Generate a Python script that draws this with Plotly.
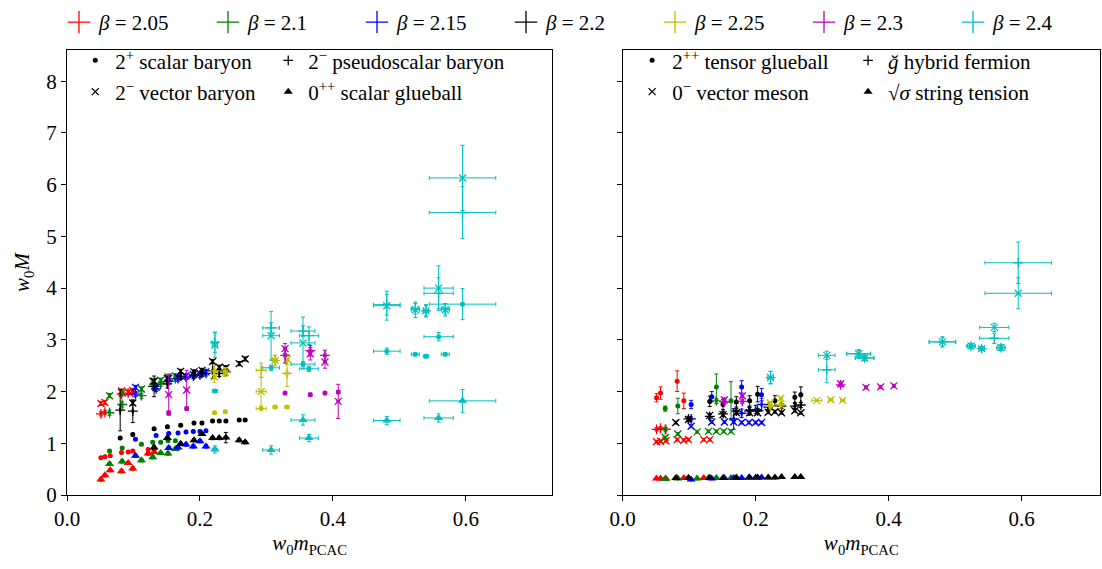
import plotly.graph_objects as go

# ---------------- data ----------------
BETA_LABELS = ["2.05", "2.1", "2.15", "2.2", "2.25", "2.3", "2.4"]
BETA_COLORS = ["#ff0000", "#008000", "#0000ff", "#000000", "#bfbf00", "#bf00bf", "#00bfbf"]

# w0 m_PCAC of each ensemble, per beta
X_205 = [0.051, 0.057, 0.065, 0.082, 0.092, 0.099, 0.122, 0.131]
X_21 = [0.064, 0.083, 0.112, 0.129, 0.141, 0.152, 0.163]
X_215 = [0.103, 0.134, 0.153, 0.167, 0.179, 0.190, 0.200, 0.209]
X_22 = [0.080, 0.099, 0.131, 0.151, 0.171, 0.191, 0.203, 0.219, 0.229, 0.239, 0.259, 0.268]
X_225 = [0.222, 0.238, 0.292, 0.313, 0.331]
X_23 = [0.153, 0.180, 0.328, 0.366, 0.388, 0.408]
X_24 = [0.2225, 0.307, 0.355, 0.364, 0.481, 0.524, 0.540, 0.559, 0.569, 0.595]
X_ENS = [X_205, X_21, X_215, X_22, X_225, X_23, X_24]

XE_205 = [0.001, 0.001, 0.001, 0.001, 0.001, 0.001, 0.001, 0.001]
XE_21 = [0.001, 0.001, 0.001, 0.001, 0.001, 0.001, 0.001]
XE_215 = [0.001, 0.001, 0.001, 0.001, 0.001, 0.001, 0.001, 0.001]
XE_22 = [0.001, 0.001, 0.001, 0.001, 0.001, 0.001, 0.001, 0.001, 0.001, 0.001, 0.001, 0.001]
XE_225 = [0.002, 0.002, 0.0075, 0.003, 0.003]
XE_23 = [0.002, 0.002, 0.002, 0.002, 0.002, 0.002]
XE_24 = [0.004, 0.0125, 0.018, 0.014, 0.02, 0.006, 0.004, 0.022, 0.006, 0.05]
X_ERR = [XE_205, XE_21, XE_215, XE_22, XE_225, XE_23, XE_24]

# ---- left panel states (w0 M), one list per beta ----
SCALAR_BARYON = [
    [0.72, 0.74, 0.76, 0.82, 0.83, 0.85, 0.88, 0.89],
    [0.85, 0.91, 0.98, 1.02, 1.02, 1.05, 1.05],
    [1.08, 1.15, 1.19, 1.20, 1.22, 1.23, 1.23, 1.24],
    [1.10, 1.17, 1.28, 1.32, 1.35, 1.39, 1.39, 1.43, 1.43, 1.43, 1.45, 1.45],
    [1.59, 1.61, 1.67, 1.70, 1.70],
    [1.59, 1.67, 1.97, 1.94, 1.97, 1.99],
    [2.01, 2.46, 2.53, 2.44, 2.78, 2.72, 2.68, 3.06, 2.72, 3.69],
]
SCALAR_BARYON_ERR = [
    [0.02, 0.02, 0.02, 0.02, 0.02, 0.02, 0.02, 0.02],
    [0.02, 0.02, 0.02, 0.02, 0.02, 0.02, 0.02],
    [0.02, 0.02, 0.02, 0.02, 0.02, 0.02, 0.02, 0.02],
    [0.02, 0.02, 0.02, 0.02, 0.02, 0.02, 0.02, 0.02, 0.02, 0.02, 0.02, 0.02],
    [0.02, 0.02, 0.02, 0.02, 0.02],
    [0.03, 0.03, 0.03, 0.03, 0.03, 0.03],
    [0.03, 0.05, 0.05, 0.05, 0.06, 0.03, 0.03, 0.08, 0.03, 0.30],
]
PSEUDO_BARYON = [
    [1.57, 1.60, None, 1.95, 1.97, 1.98, None, None],
    [1.59, 1.75, 1.92, 2.10, 2.15, 2.20, 2.25],
    [1.95, 2.05, 2.20, 2.25, 2.28, 2.30, 2.32, 2.35],
    [1.64, 1.62, 2.10, 2.15, 2.30, 2.32, 2.35, 2.40, 2.35, 2.38, None, None],
    [2.40, 2.38, 2.41, 2.60, 2.35],
    [None, None, 2.70, 2.79, 2.70, None],
    [2.95, 3.23, 3.17, 3.08, 3.68, 3.60, 3.56, 3.90, 3.60, 5.46],
]
PSEUDO_BARYON_ERR = [
    [0.04, 0.04, 0.0, 0.04, 0.04, 0.04, 0.0, 0.0],
    [0.05, 0.05, 0.05, 0.05, 0.05, 0.05, 0.05],
    [0.05, 0.05, 0.05, 0.05, 0.05, 0.05, 0.05, 0.05],
    [0.40, 0.22, 0.20, 0.08, 0.06, 0.06, 0.06, 0.15, 0.06, 0.06, 0.0, 0.0],
    [0.10, 0.08, 0.14, 0.10, 0.25],
    [0.0, 0.0, 0.15, 0.10, 0.10, 0.0],
    [0.20, 0.10, 0.10, 0.17, 0.20, 0.10, 0.10, 0.30, 0.10, 0.50],
]
VECTOR_BARYON = [
    [1.77, 1.79, None, 2.01, 1.99, 2.02, None, None],
    [1.92, 1.97, 2.05, 2.20, 2.22, 2.28, 2.30],
    [2.08, 2.08, 2.25, 2.28, 2.30, 2.33, 2.35, 2.38],
    [None, 1.78, 2.20, 2.25, 2.39, 2.38, 2.41, 2.58, 2.47, 2.46, 2.54, 2.63],
    [2.28, 2.37, 2.00, 2.60, 2.62],
    [1.94, 2.03, 2.83, 2.73, 2.57, 1.81],
    [2.90, 3.08, 2.94, None, 3.66, 3.58, 3.56, 4.00, 3.58, 6.13],
]
VECTOR_BARYON_ERR = [
    [0.04, 0.04, 0.0, 0.04, 0.04, 0.04, 0.0, 0.0],
    [0.04, 0.04, 0.04, 0.04, 0.04, 0.04, 0.04],
    [0.04, 0.04, 0.04, 0.04, 0.04, 0.04, 0.04, 0.04],
    [0.0, 0.04, 0.04, 0.04, 0.04, 0.04, 0.04, 0.04, 0.04, 0.04, 0.04, 0.04],
    [0.10, 0.08, 0.28, 0.10, 0.10],
    [0.40, 0.38, 0.10, 0.12, 0.12, 0.33],
    [0.24, 0.47, 0.50, 0.0, 0.28, 0.15, 0.12, 0.43, 0.12, 0.63],
]
GLUEBALL_0PP = [
    [0.30, 0.38, 0.48, 0.46, 0.62, 0.51, 0.80, 0.83],
    [0.60, 0.65, 0.67, 0.73, 0.81, 0.80, 0.89],
    [0.76, None, 0.91, 0.92, 0.975, 0.94, 1.04, 0.94],
    [None, None, 0.92, 1.10, 0.99, 1.06, 1.18, 1.10, 1.10, 1.11, 1.06, 1.02],
    [None, None, None, None, None],
    [None, None, None, None, None, None],
    [0.88, 0.87, 1.45, 1.10, 1.44, None, None, 1.49, None, 1.82],
]
GLUEBALL_0PP_ERR = [
    [0.03, 0.03, 0.03, 0.03, 0.03, 0.03, 0.03, 0.03],
    [0.03, 0.03, 0.03, 0.03, 0.03, 0.03, 0.03],
    [0.03, 0.0, 0.03, 0.03, 0.03, 0.03, 0.03, 0.03],
    [0.0, 0.0, 0.03, 0.03, 0.03, 0.03, 0.03, 0.03, 0.03, 0.10, 0.03, 0.03],
    [0.0, 0.0, 0.0, 0.0, 0.0],
    [0.0, 0.0, 0.0, 0.0, 0.0, 0.0],
    [0.07, 0.08, 0.10, 0.07, 0.08, 0.0, 0.0, 0.08, 0.0, 0.22],
]

# ---- right panel states ----
TENSOR_GLUEBALL = [
    [1.88, 1.97, None, 2.20, 1.82, None, None, None],
    [1.67, 1.72, None, None, 2.09, None, 1.82],
    [1.75, 1.90, None, None, 2.09, None, None, 1.94],
    [None, None, 1.81, 1.75, 1.80, 1.82, 1.95, None, 1.82, None, 1.89, 1.94],
    [None, None, None, None, None],
    [None, None, None, None, None, None],
    [None, None, None, None, None, None, None, None, None, None],
]
TENSOR_GLUEBALL_ERR = [
    [0.08, 0.12, 0.0, 0.20, 0.15, 0.0, 0.0, 0.0],
    [0.05, 0.15, 0.0, 0.0, 0.25, 0.0, 0.37],
    [0.08, 0.10, 0.0, 0.0, 0.12, 0.0, 0.0, 0.12],
    [0.0, 0.0, 0.10, 0.10, 0.10, 0.10, 0.15, 0.0, 0.10, 0.0, 0.10, 0.15],
    [0.0, 0.0, 0.0, 0.0, 0.0],
    [0.0, 0.0, 0.0, 0.0, 0.0, 0.0],
    [0.0, 0.0, 0.0, 0.0, 0.0, 0.0, 0.0, 0.0, 0.0, 0.0],
]
HYBRID_FERMION = [
    [1.27, 1.29, 1.27, None, None, None, None, None],
    [1.27, None, None, None, 1.82, None, None],
    [1.47, None, None, 1.47, 1.58, 1.62, 1.65, 1.75],
    [None, 1.47, 1.52, 1.57, 1.62, 1.64, 1.62, 1.70, None, 1.72, 1.72, 1.74],
    [1.72, 1.75, None, None, None],
    [1.80, 1.81, 2.13, None, None, None],
    [2.27, 2.42, 2.73, 2.65, 2.96, 2.88, 2.83, 3.03, 2.85, 4.49],
]
HYBRID_FERMION_ERR = [
    [0.03, 0.03, 0.03, 0.0, 0.0, 0.0, 0.0, 0.0],
    [0.03, 0.0, 0.0, 0.0, 0.05, 0.0, 0.0],
    [0.04, 0.0, 0.0, 0.20, 0.08, 0.08, 0.08, 0.12],
    [0.0, 0.05, 0.05, 0.05, 0.05, 0.05, 0.05, 0.05, 0.0, 0.05, 0.05, 0.05],
    [0.04, 0.04, 0.0, 0.0, 0.0],
    [0.04, 0.04, 0.04, 0.0, 0.0, 0.0],
    [0.12, 0.25, 0.08, 0.05, 0.10, 0.04, 0.04, 0.10, 0.05, 0.40],
]
VECTOR_MESON = [
    [1.03, 1.04, 1.05, 1.07, 1.06, 1.07, 1.07, 1.07],
    [1.11, 1.18, 1.22, 1.23, 1.23, 1.23, 1.23],
    [1.33, 1.41, 1.41, 1.41, 1.40, 1.40, 1.40, 1.40],
    [1.40, 1.46, 1.54, 1.55, 1.59, 1.59, 1.59, 1.60, 1.61, 1.59, 1.63, 1.59],
    [1.78, 1.87, 1.83, 1.84, 1.83],
    [1.84, 1.92, 2.15, 2.08, 2.09, 2.11],
    [2.27, 2.70, 2.73, 2.65, 2.96, 2.88, 2.83, 3.24, 2.85, 3.90],
]
VECTOR_MESON_ERR = [
    [0.02, 0.02, 0.02, 0.02, 0.02, 0.02, 0.02, 0.02],
    [0.02, 0.02, 0.02, 0.02, 0.02, 0.02, 0.02],
    [0.02, 0.02, 0.02, 0.02, 0.02, 0.02, 0.02, 0.02],
    [0.02, 0.02, 0.02, 0.02, 0.02, 0.02, 0.02, 0.02, 0.02, 0.02, 0.02, 0.02],
    [0.02, 0.02, 0.02, 0.02, 0.02],
    [0.03, 0.03, 0.03, 0.03, 0.03, 0.03],
    [0.12, 0.08, 0.06, 0.05, 0.08, 0.04, 0.04, 0.08, 0.05, 0.30],
]
STRING_TENSION = [
    [0.32, 0.32, 0.32, 0.33, 0.33, 0.33, 0.33, 0.33],
    [0.31, 0.32, 0.32, 0.33, 0.33, 0.33, 0.33],
    [0.30, 0.32, 0.33, 0.33, 0.33, 0.34, 0.34, 0.34],
    [0.33, 0.33, 0.33, 0.33, 0.34, 0.34, 0.34, 0.34, 0.34, 0.35, 0.35, 0.35],
    [None, None, None, None, None],
    [None, None, None, None, None, None],
    [None, None, None, None, None, None, None, None, None, None],
]
STRING_TENSION_ERR = [
    [0.01, 0.01, 0.01, 0.01, 0.01, 0.01, 0.01, 0.01],
    [0.01, 0.01, 0.01, 0.01, 0.01, 0.01, 0.01],
    [0.01, 0.01, 0.01, 0.01, 0.01, 0.01, 0.01, 0.01],
    [0.01, 0.01, 0.01, 0.01, 0.01, 0.01, 0.01, 0.01, 0.01, 0.01, 0.01, 0.01],
    [0.0, 0.0, 0.0, 0.0, 0.0],
    [0.0, 0.0, 0.0, 0.0, 0.0, 0.0],
    [0.0, 0.0, 0.0, 0.0, 0.0, 0.0, 0.0, 0.0, 0.0, 0.0],
]

LEFT_LABELS = ["2<sup>+</sup> scalar baryon", "2<sup>\u2212</sup> vector baryon",
               "2<sup>\u2212</sup> pseudoscalar baryon", "0<sup>++</sup> scalar glueball"]
RIGHT_LABELS = ["2<sup>++</sup> tensor glueball", "0<sup>\u2212</sup> vector meson",
                "<i>\u011f</i> hybrid fermion", "\u221a<i>\u03c3</i> string tension"]

# ---------------- styling ----------------
FONT = "Liberation Serif"
FS = 21
MK = {
    "dot": dict(symbol="circle", size=5, lw=0),
    "plus": dict(symbol="cross-thin", size=7, lw=1.3),
    "x": dict(symbol="x-thin", size=7, lw=1.3),
    "tri": dict(symbol="triangle-up", size=8, lw=0),
}

fig = go.Figure()


def add_state(xs, xerr, ys, yerr, color, mk, xa, ya):
    fig.add_trace(go.Scatter(
        x=xs, y=ys, mode="markers", xaxis=xa, yaxis=ya, showlegend=False,
        hoverinfo="skip",
        marker=dict(symbol=mk["symbol"], size=mk["size"], color=color,
                    line=dict(color=color, width=mk["lw"])),
        error_x=dict(type="data", array=xerr, thickness=1, width=2, color=color),
        error_y=dict(type="data", array=yerr, thickness=1, width=2, color=color),
    ))


for i, color in enumerate(BETA_COLORS):
    xs, xe = X_ENS[i], X_ERR[i]
    # left panel
    add_state(xs, xe, GLUEBALL_0PP[i], GLUEBALL_0PP_ERR[i], color, MK["tri"], "x", "y")
    add_state(xs, xe, SCALAR_BARYON[i], SCALAR_BARYON_ERR[i], color, MK["dot"], "x", "y")
    add_state(xs, xe, PSEUDO_BARYON[i], PSEUDO_BARYON_ERR[i], color, MK["plus"], "x", "y")
    add_state(xs, xe, VECTOR_BARYON[i], VECTOR_BARYON_ERR[i], color, MK["x"], "x", "y")
    # right panel
    add_state(xs, xe, STRING_TENSION[i], STRING_TENSION_ERR[i], color, MK["tri"], "x2", "y2")
    add_state(xs, xe, TENSOR_GLUEBALL[i], TENSOR_GLUEBALL_ERR[i], color, MK["dot"], "x2", "y2")
    add_state(xs, xe, HYBRID_FERMION[i], HYBRID_FERMION_ERR[i], color, MK["plus"], "x2", "y2")
    add_state(xs, xe, VECTOR_MESON[i], VECTOR_MESON_ERR[i], color, MK["x"], "x2", "y2")

# top legend: beta values
for lab, color in zip(BETA_LABELS, BETA_COLORS):
    fig.add_trace(go.Scatter(
        x=[None], y=[None], mode="markers", name="<i>\u03b2</i> = " + lab,
        legend="legend", showlegend=True,
        marker=dict(symbol="cross-thin", size=16, color=color, line=dict(color=color, width=1.3)),
    ))

# marker-shape legends (two columns per panel)
SHAPE_LEGENDS = [
    ("legend2", [(LEFT_LABELS[0], "dot"), (LEFT_LABELS[1], "x")]),
    ("legend3", [(LEFT_LABELS[2], "plus"), (LEFT_LABELS[3], "tri")]),
    ("legend4", [(RIGHT_LABELS[0], "dot"), (RIGHT_LABELS[1], "x")]),
    ("legend5", [(RIGHT_LABELS[2], "plus"), (RIGHT_LABELS[3], "tri")]),
]
for lg, items in SHAPE_LEGENDS:
    for j, (lab, key) in enumerate(items):
        mk = MK[key]
        fig.add_trace(go.Scatter(
            x=[None], y=[None], mode="markers", name=lab, legend=lg,
            legendgroup=lg + str(j), showlegend=True,
            marker=dict(symbol=mk["symbol"], size=mk["size"], color="black",
                        line=dict(color="black", width=mk["lw"])),
        ))

# ---------------- layout ----------------
L, R, T, B = 66.7, 2, 42, 73.6
W, H = 1102, 569
PW = W - L - R
PH = H - T - B


def px2x(p):
    return (p - L) / PW


def py2y(p):
    return (H - B - p) / PH


axis_common = dict(
    showgrid=False, zeroline=False, showline=True, linecolor="black", linewidth=1.2,
    mirror=True, ticks="outside", ticklen=5, tickwidth=1.2, tickcolor="black",
    tickfont=dict(family=FONT, size=FS, color="black"),
)
xtitle = dict(text="<i>w</i><sub>0</sub><i>m</i><sub>PCAC</sub>",
              font=dict(family=FONT, size=FS, color="black"), standoff=4)

shape_legend_common = dict(
    font=dict(family=FONT, size=FS, color="black"), bgcolor="rgba(0,0,0,0)",
    xanchor="left", yanchor="top", itemsizing="trace", tracegroupgap=1,
    orientation="v",
)

fig.update_layout(
    width=W, height=H, margin=dict(l=L, r=R, t=T, b=B),
    paper_bgcolor="white", plot_bgcolor="white",
    font=dict(family=FONT, size=FS, color="black"),
    xaxis=dict(domain=[0, px2x(552)], range=[0, 0.7298], dtick=0.2, tickformat=".1f",
               anchor="y", title=xtitle, **axis_common),
    xaxis2=dict(domain=[px2x(622.5), 1], range=[0, 0.718], dtick=0.2, tickformat=".1f",
                anchor="y2", title=xtitle, **axis_common),
    yaxis=dict(domain=[0, 1], range=[0, 8.603], dtick=1, anchor="x",
               title=dict(text="<i>w</i><sub>0</sub><i>M</i>",
                          font=dict(family=FONT, size=FS, color="black"), standoff=10),
               **axis_common),
    yaxis2=dict(domain=[0, 1], range=[0, 8.603], dtick=1, anchor="x2", matches="y",
                showticklabels=False, **axis_common),
    legend=dict(orientation="h", x=px2x(63), xanchor="left", y=py2y(14), yanchor="middle",
                font=dict(family=FONT, size=FS, color="black"), bgcolor="rgba(0,0,0,0)",
                entrywidth=104, entrywidthmode="pixels", itemsizing="trace"),
    legend2=dict(x=px2x(75), y=py2y(32), **shape_legend_common),
    legend3=dict(x=px2x(268), y=py2y(32), **shape_legend_common),
    legend4=dict(x=px2x(632), y=py2y(32), **shape_legend_common),
    legend5=dict(x=px2x(848), y=py2y(32), **shape_legend_common),
)

fig.write_html("out.html")
